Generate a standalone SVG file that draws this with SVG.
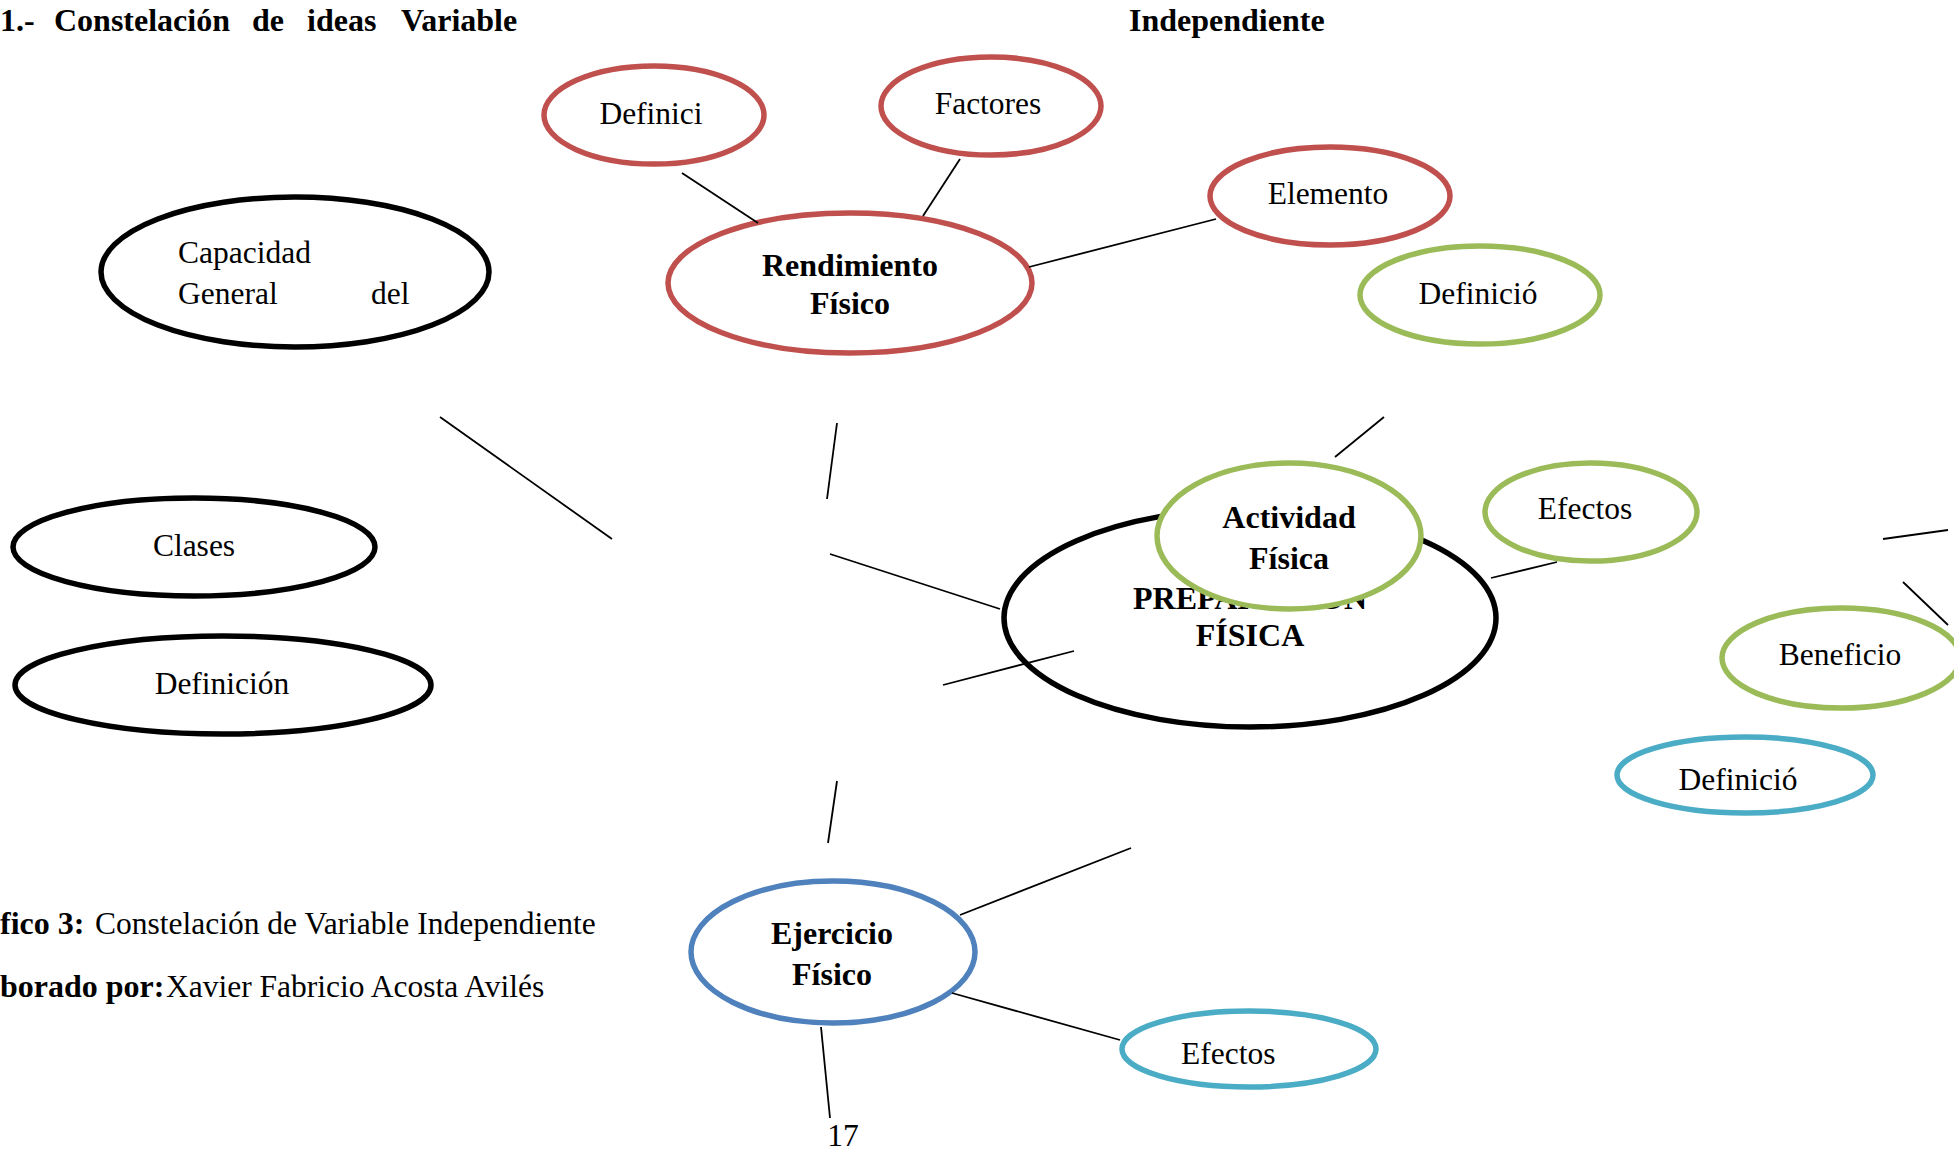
<svg xmlns="http://www.w3.org/2000/svg" width="1954" height="1152" viewBox="0 0 1954 1152">
<style>
text{font-family:"Liberation Serif","Times New Roman",serif;fill:#000}
.r{font-size:31.5px}
.b{font-size:32px;font-weight:bold}
.m{text-anchor:middle}
.n{fill:#fff;stroke-width:5.5}
.red{stroke:#C0504D}
.grn{stroke:#9BBB59}
.blu{stroke:#4F81BD}
.cyn{stroke:#4BACC6}
.blk{stroke:#000}
.c line{stroke:#000;stroke-width:1.8}
</style>
<rect width="1954" height="1152" fill="#fff"/>
<g id="title">
<text class="b" y="31"><tspan x="0">1.-</tspan><tspan x="54">Constelación</tspan><tspan x="252">de</tspan><tspan x="307">ideas</tspan><tspan x="401">Variable</tspan><tspan x="1129">Independiente</tspan></text>
</g>
<g id="preparacion">
<ellipse class="n blk" cx="1250" cy="618" rx="246" ry="109"/>
<text class="b m" x="1250" y="609">PREPARACIÓN</text>
<text class="b m" x="1250" y="646">FÍSICA</text>
</g>
<g id="actividad">
<ellipse class="n grn" cx="1289" cy="536" rx="132" ry="73"/>
<text class="b m" x="1289" y="528">Actividad</text>
<text class="b m" x="1289" y="569">Física</text>
</g>
<g id="definici">
<ellipse class="n red" cx="654" cy="115" rx="110" ry="49"/>
<text class="r m" x="651" y="124">Definici</text>
</g>
<g id="factores">
<ellipse class="n red" cx="991" cy="106" rx="110" ry="49"/>
<text class="r m" x="988" y="114">Factores</text>
</g>
<g id="rendimiento">
<ellipse class="n red" cx="850" cy="283" rx="182" ry="70"/>
<text class="b m" x="850" y="276">Rendimiento</text>
<text class="b m" x="850" y="314">Físico</text>
</g>
<g id="elemento">
<ellipse class="n red" cx="1330" cy="196" rx="120" ry="49"/>
<text class="r m" x="1328" y="204">Elemento</text>
</g>
<g id="definicio-verde">
<ellipse class="n grn" cx="1480" cy="295" rx="120" ry="49"/>
<text class="r m" x="1478" y="304">Definició</text>
</g>
<g id="capacidad">
<ellipse class="n blk" cx="295" cy="272" rx="194" ry="75"/>
<text class="r" x="178" y="263">Capacidad</text>
<text class="r" x="178" y="304">General</text>
<text class="r" x="371" y="304">del</text>
</g>
<g id="clases">
<ellipse class="n blk" cx="194" cy="547" rx="181" ry="49"/>
<text class="r m" x="194" y="556">Clases</text>
</g>
<g id="definicion">
<ellipse class="n blk" cx="223" cy="685" rx="208" ry="49"/>
<text class="r m" x="222" y="694">Definición</text>
</g>
<g id="efectos-verde">
<ellipse class="n grn" cx="1591" cy="512" rx="106" ry="49"/>
<text class="r m" x="1585" y="519">Efectos</text>
</g>
<g id="beneficio">
<ellipse class="n grn" cx="1841" cy="658" rx="119" ry="50"/>
<text class="r m" x="1840" y="665">Beneficio</text>
</g>
<g id="definicio-azul">
<ellipse class="n cyn" cx="1745" cy="775" rx="128" ry="38"/>
<text class="r m" x="1738" y="790">Definició</text>
</g>
<g id="ejercicio">
<ellipse class="n blu" cx="833" cy="952" rx="142" ry="71"/>
<text class="b m" x="832" y="944">Ejercicio</text>
<text class="b m" x="832" y="985">Físico</text>
</g>
<g id="efectos-azul">
<ellipse class="n cyn" cx="1249" cy="1049" rx="127" ry="38"/>
<text class="r" x="1181" y="1064">Efectos</text>
</g>
<g class="c" id="connectors">
<line x1="682" y1="173" x2="758" y2="223"/>
<line x1="960" y1="159" x2="923" y2="216"/>
<line x1="1029" y1="267" x2="1216" y2="219"/>
<line x1="440" y1="417" x2="612" y2="539"/>
<line x1="837" y1="423" x2="827" y2="499"/>
<line x1="830" y1="554" x2="1000" y2="609"/>
<line x1="943" y1="685" x2="1074" y2="651"/>
<line x1="837" y1="781" x2="828" y2="843"/>
<line x1="1384" y1="417" x2="1335" y2="457"/>
<line x1="1491" y1="578" x2="1557" y2="562"/>
<line x1="1883" y1="539" x2="1948" y2="530"/>
<line x1="1903" y1="582" x2="1948" y2="625"/>
<line x1="960" y1="915" x2="1131" y2="848"/>
<line x1="952" y1="993" x2="1120" y2="1040"/>
<line x1="821" y1="1027" x2="830" y2="1118"/>
</g>
<g id="caption">
<text class="r" y="934"><tspan class="b" x="0">fico 3:</tspan><tspan x="95">Constelación de Variable Independiente</tspan></text>
<text class="r" y="997"><tspan class="b" x="0">borado por:</tspan><tspan x="166">Xavier Fabricio Acosta Avilés</tspan></text>
<text class="r m" x="843" y="1146">17</text>
</g>
</svg>
